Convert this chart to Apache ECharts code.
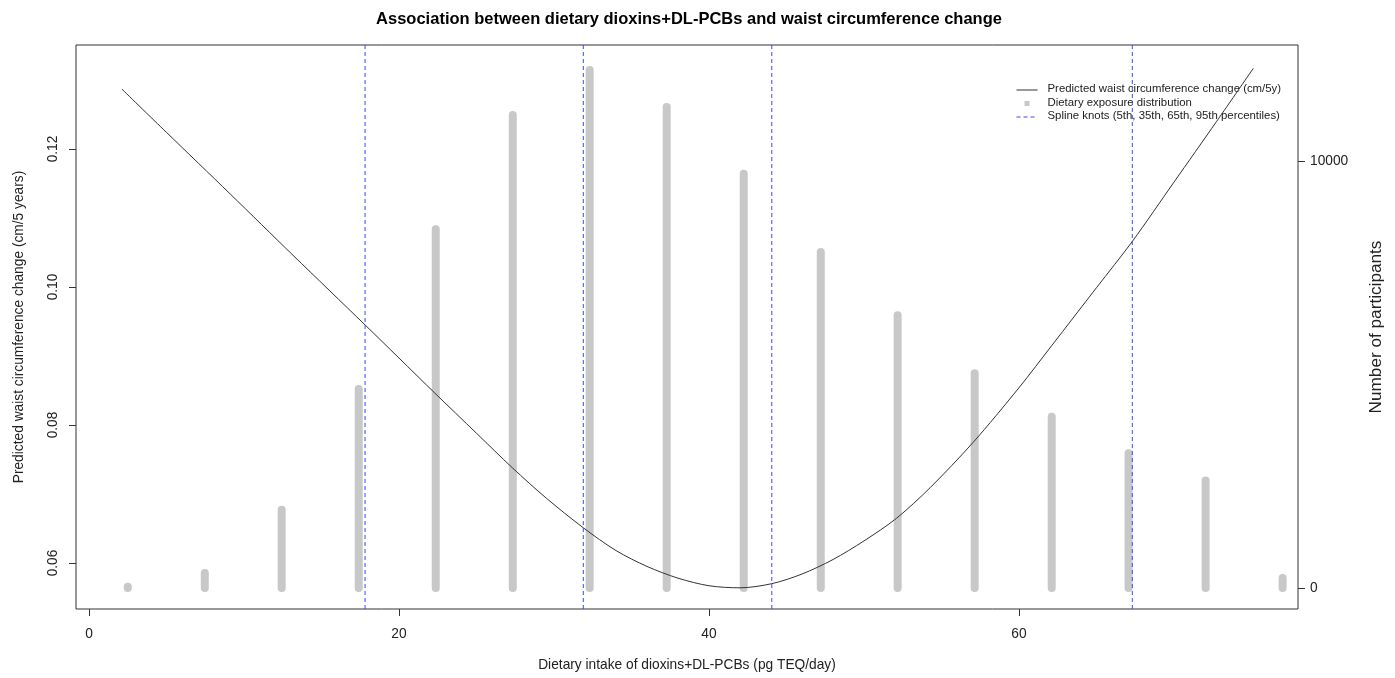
<!DOCTYPE html>
<html>
<head>
<meta charset="utf-8">
<title>Dietary dioxins+DL-PCBs and waist circumference change</title>
<script src="https://cdn.jsdelivr.net/npm/echarts@6/dist/echarts.min.js"></script>
<style>
  html, body { margin: 0; padding: 0; background: #ffffff; }
  #chart { width: 1395px; height: 678px; }
</style>
</head>
<body>
<div id="chart"></div>
<script>
// Predicted spline curve: intake (pg TEQ/day) vs waist change (cm/5 years)
const curveIntake = [2.11, 5.0, 9.10, 13.16, 17.81, 20.0, 22.32, 25.0, 27.31, 29.5, 31.89, 34.0, 36.0,
  38.0, 40.0, 42.0, 44.05, 46.0, 48.0, 50.0, 52.11, 54.26, 57.05, 60.0, 62.11, 65.0, 67.31, 70.0, 72.75, 75.12];
const curveChange = [0.1287, 0.1224, 0.1135, 0.1046, 0.0945, 0.0897, 0.0846, 0.0788, 0.0738, 0.0694,
  0.0651, 0.0618, 0.0595, 0.0578, 0.0567, 0.0564, 0.0570, 0.0584, 0.0605, 0.0632, 0.0665, 0.0709,
  0.0775, 0.0854, 0.0915, 0.0999, 0.1066, 0.1152, 0.1240, 0.1317];

// Exposure distribution: bin midpoints and participant counts
const binMid = [2.50, 7.47, 12.43, 17.40, 22.37, 27.34, 32.30, 37.27, 42.24, 47.21, 52.17, 57.14,
  62.11, 67.07, 72.04, 77.01];
const binCount = [30, 350, 1830, 4660, 8400, 11080, 12130, 11265, 9700, 7870, 6390, 5030,
  4010, 3155, 2515, 234];

// Spline knots at the 5th, 35th, 65th and 95th percentiles
const knots = [17.81, 31.89, 44.05, 67.31];

// Tick labels
const xTicks = [0, 20, 40, 60];
const yTicks = [0.06, 0.08, 0.10, 0.12];
const countTicks = [0, 10000];

const X_MIN = -0.84, X_MAX = 78.0;
const Y_MIN = 0.05333, Y_MAX = 0.13507;
const C_MIN = -492, C_MAX = 12717;

const FONT = '"Liberation Sans", Arial, sans-serif';
const INK = '#222222';
const BASE = 13.75;
const LEGEND_FONT = '11.4px ' + FONT;

const chart = echarts.init(document.getElementById('chart'), null, { renderer: 'canvas' });

const option = {
  backgroundColor: '#ffffff',
  animation: false,
  title: {
    text: 'Association between dietary dioxins+DL-PCBs and waist circumference change',
    left: 684, top: 6, textAlign: 'center',
    textStyle: { fontFamily: FONT, fontSize: 16.5, fontWeight: 'bold', color: '#000' }
  },
  grid: {
    left: 76, right: 97, top: 45, bottom: 69,
    show: true, borderColor: '#333', borderWidth: 1, backgroundColor: 'transparent'
  },
  xAxis: {
    type: 'value', min: X_MIN, max: X_MAX,
    name: 'Dietary intake of dioxins+DL-PCBs (pg TEQ/day)',
    nameLocation: 'middle', nameGap: 49,
    nameTextStyle: { fontFamily: FONT, fontSize: BASE, color: INK },
    axisLine: { show: false, onZero: false },
    splitLine: { show: false },
    axisTick: { show: true, length: 7, inside: false, customValues: xTicks, lineStyle: { color: '#333' } },
    axisLabel: { customValues: xTicks, margin: 18, fontFamily: FONT, fontSize: BASE, color: INK,
      formatter: v => String(v) }
  },
  yAxis: [
    {
      type: 'value', min: Y_MIN, max: Y_MAX, position: 'left',
      name: 'Predicted waist circumference change (cm/5 years)',
      nameLocation: 'middle', nameGap: 50, nameRotate: 90,
      nameTextStyle: { fontFamily: FONT, fontSize: BASE, color: INK },
      axisLine: { show: false, onZero: false },
      splitLine: { show: false },
      axisTick: { show: true, length: 7, customValues: yTicks, lineStyle: { color: '#333' } },
      axisLabel: { customValues: yTicks, rotate: 90, margin: 16, fontFamily: FONT, fontSize: BASE, color: INK,
        formatter: v => v.toFixed(2) }
    },
    {
      type: 'value', min: C_MIN, max: C_MAX, position: 'right',
      name: 'Number of participants',
      nameLocation: 'middle', nameGap: 70, nameRotate: 90,
      nameTextStyle: { fontFamily: FONT, fontSize: 17.2, color: INK },
      axisLine: { show: false, onZero: false },
      splitLine: { show: false },
      axisTick: { show: true, length: 7, customValues: countTicks, lineStyle: { color: '#333' } },
      axisLabel: { customValues: countTicks, margin: 12, fontFamily: FONT, fontSize: BASE, color: INK,
        formatter: v => String(v) }
    }
  ],
  graphic: [
    {
      type: 'group', left: 1014, top: 83, z: 0,
      children: [
        { type: 'line', shape: { x1: 0, y1: 7, x2: 21, y2: 7 }, style: { stroke: '#333', lineWidth: 1 } },
        { type: 'text', left: 31, top: 0, style: { text: 'Predicted waist circumference change (cm/5y)',
          font: LEGEND_FONT, fill: INK } },
        { type: 'rect', shape: { x: 8, y: 18, width: 5, height: 5 }, style: { fill: '#c8c8c8' } },
        { type: 'text', left: 31, top: 14, style: { text: 'Dietary exposure distribution',
          font: LEGEND_FONT, fill: INK } },
        { type: 'line', shape: { x1: 0, y1: 34, x2: 21, y2: 34 }, style: { stroke: '#4444ff', lineWidth: 1, lineDash: [4, 3] } },
        { type: 'text', left: 31, top: 27, style: { text: 'Spline knots (5th, 35th, 65th, 95th percentiles)',
          font: LEGEND_FONT, fill: INK } }
      ]
    }
  ],
  series: [
    {
      name: 'Dietary exposure distribution',
      type: 'custom',
      xAxisIndex: 0, yAxisIndex: 1,
      z: 2,
      data: binMid.map((x, i) => [x, binCount[i]]),
      encode: { x: 0, y: 1 },
      renderItem: function (params, api) {
        const x = api.value(0);
        const c = api.value(1);
        const p0 = api.coord([x, 0]);
        const p1 = api.coord([x, c]);
        return {
          type: 'line',
          shape: { x1: p0[0], y1: p0[1], x2: p1[0], y2: p1[1] },
          style: { stroke: '#c8c8c8', lineWidth: 8, lineCap: 'round' }
        };
      }
    },
    {
      name: 'Predicted waist circumference change (cm/5y)',
      type: 'line',
      xAxisIndex: 0, yAxisIndex: 0,
      z: 3,
      data: curveIntake.map((x, i) => [x, curveChange[i]]),
      smooth: 0.3,
      showSymbol: false,
      symbol: 'none',
      lineStyle: { color: '#333', width: 1 }
    },
    {
      name: 'Spline knots (5th, 35th, 65th, 95th percentiles)',
      type: 'custom',
      xAxisIndex: 0, yAxisIndex: 0,
      z: 4,
      data: knots.map(k => [k]),
      encode: { x: 0 },
      renderItem: function (params, api) {
        const x = api.value(0);
        const top = api.coord([x, Y_MAX]);
        const bottom = api.coord([x, Y_MIN]);
        return {
          type: 'line',
          shape: { x1: top[0], y1: top[1], x2: bottom[0], y2: bottom[1] },
          style: { stroke: '#4444ff', lineWidth: 1, lineDash: [4, 3] }
        };
      }
    }
  ]
};

chart.setOption(option);
</script>
</body>
</html>
